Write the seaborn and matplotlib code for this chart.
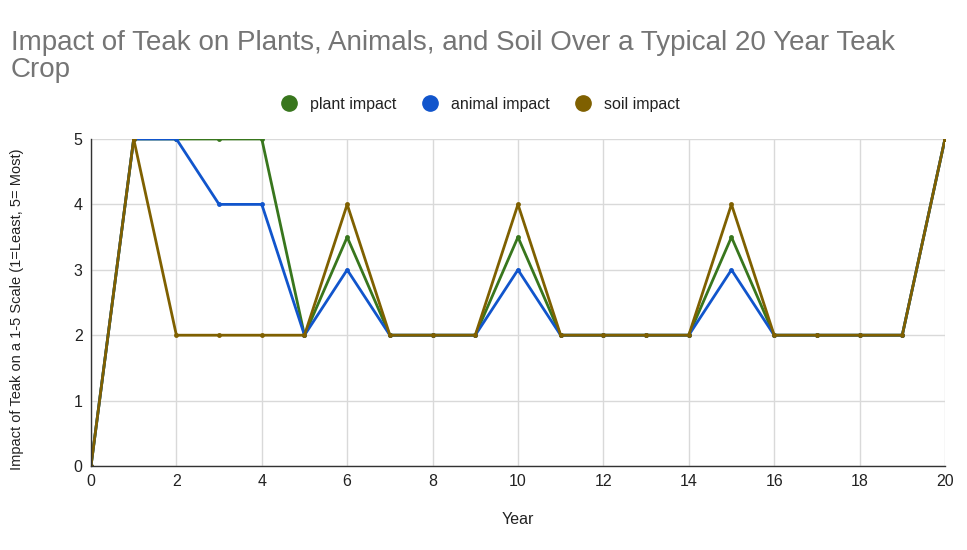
import matplotlib
matplotlib.use("Agg")
import matplotlib.pyplot as plt
import seaborn as sns
import pandas as pd
from matplotlib.lines import Line2D

years = list(range(0, 21))
plant_impact = [0, 5, 5, 5, 5, 2, 3.5, 2, 2, 2, 3.5, 2, 2, 2, 2, 3.5, 2, 2, 2, 2, 5]
animal_impact = [0, 5, 5, 4, 4, 2, 3, 2, 2, 2, 3, 2, 2, 2, 2, 3, 2, 2, 2, 2, 5]
soil_impact = [0, 5, 2, 2, 2, 2, 4, 2, 2, 2, 4, 2, 2, 2, 2, 4, 2, 2, 2, 2, 5]
series_names = ["plant impact", "animal impact", "soil impact"]
colors = ["#38761d", "#1155cc", "#7f6000"]

df = pd.DataFrame({
    "Year": years * 3,
    "value": plant_impact + animal_impact + soil_impact,
    "series": [series_names[0]] * 21 + [series_names[1]] * 21 + [series_names[2]] * 21,
})

sns.set_style("white")
plt.rcParams["font.family"] = ["Liberation Sans", "DejaVu Sans"]

fig = plt.figure(figsize=(9.67, 5.5), dpi=100)
ax = fig.add_axes([0.0941, 0.1527, 0.8831, 0.5946])

sns.lineplot(data=df, x="Year", y="value", hue="series", hue_order=series_names,
             palette=colors, marker="o", markersize=3.5, markeredgewidth=0,
             linewidth=2, ax=ax, legend=False, sort=False)

ax.set_xlim(0, 20)
ax.set_ylim(0, 5)
ax.set_xticks(range(0, 21, 2))
ax.set_yticks(range(0, 6))
ax.grid(True, color="#d9d9d9", linewidth=1)
ax.set_axisbelow(True)
for s in ["top", "right"]:
    ax.spines[s].set_visible(False)
ax.spines["left"].set_color("#333333")
ax.spines["bottom"].set_color("#333333")
ax.spines["left"].set_linewidth(1)
ax.spines["bottom"].set_linewidth(1)
ax.tick_params(axis="both", length=0, labelsize=11.5, colors="#222222", pad=6)
ax.set_xlabel("Year", fontsize=11.5, color="#222222", labelpad=16)
ax.set_ylabel("Impact of Teak on a 1-5 Scale (1=Least, 5= Most)", fontsize=10.5,
              color="#222222", labelpad=34)
ax.yaxis.set_label_coords(-0.079, 0.48)

fig.text(0.011, 0.945, "Impact of Teak on Plants, Animals, and Soil Over a Typical 20 Year Teak\nCrop",
         fontsize=20, color="#757575", ha="left", va="top", linespacing=1.02)

handles = [Line2D([], [], linestyle="none", marker="o", markersize=11, color=c) for c in colors]
fig.legend(handles, series_names, loc="center", bbox_to_anchor=(0.496, 0.81), ncol=3,
           frameon=False, fontsize=11.5, handletextpad=0.7, columnspacing=1.5,
           handlelength=1.2, labelcolor="#222222")

fig.savefig("out.png", dpi=100)
